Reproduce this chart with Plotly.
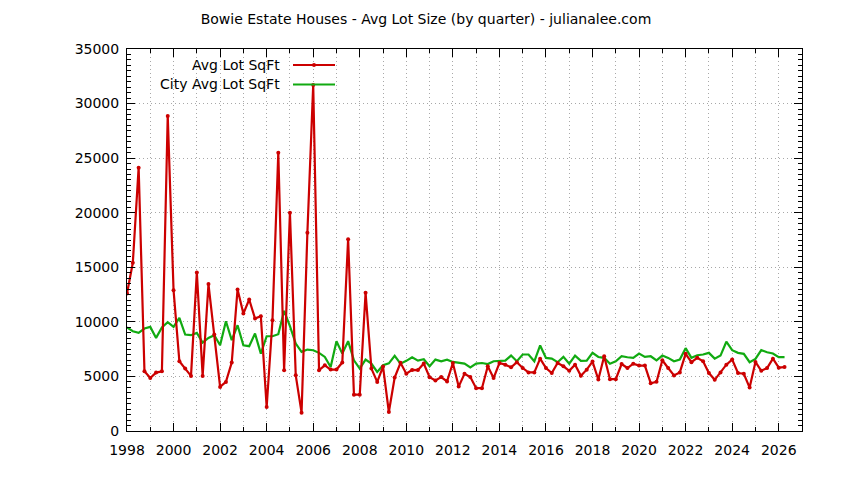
import numpy as np
import plotly.graph_objects as go

start_year = 1998
avg_lot = [
    12600, 15410, 24130, 5470,
    4860, 5350, 5470, 28870,
    12900, 6390, 5720, 5050,
    14530, 5050, 13460, 8840,
    4040, 4500, 6270, 12970,
    10760, 12050, 10300, 10520,
    2200, 10150, 25500, 5570,
    20000, 5100, 1680, 18160,
    31700, 5570, 6020, 5630,
    5630, 6270, 17580, 3330,
    3330, 12660, 5720, 4500,
    5900, 1740, 4900, 6250,
    5250, 5600, 5580, 6180,
    4920, 4630, 4940, 4540,
    6230, 4070, 5250, 4940,
    3920, 3920, 5930, 4850,
    6230, 6080, 5830, 6300,
    5770, 5370, 5370, 6630,
    5770, 5310, 6230, 5930,
    5520, 6080, 5060, 5620,
    6360, 4720, 6850, 4750,
    4750, 6140, 5770, 6170,
    5990, 5990, 4380, 4510,
    6480, 5770, 5090, 5370,
    7070, 6300, 6700, 6390,
    5310, 4690, 5370, 6080,
    6540, 5310, 5250, 3980,
    6330, 5520, 5770, 6630,
    5800, 5860,
]
city_avg_lot = [
    9480, 9140, 8990, 9390,
    9540, 8530, 9480, 9970,
    9540, 10370, 8840, 8780,
    8990, 8100, 8530, 8780,
    7860, 10060, 8320, 9690,
    7860, 7770, 8930, 7090,
    8680, 8680, 8870, 11010,
    9600, 8010, 7250, 7460,
    7400, 7160, 6790, 5870,
    8230, 7090, 8230, 6480,
    5720, 6540, 6180, 5410,
    6020, 6200, 6880, 6170,
    6430, 6760, 6450, 6570,
    5930, 6540, 6390, 6540,
    6330, 6230, 6170, 5830,
    6170, 6230, 6140, 6390,
    6390, 6450, 6910, 6390,
    7010, 7010, 6390, 7840,
    6700, 6630, 6300, 6790,
    6170, 6910, 6420, 6450,
    7160, 6780, 6700, 6170,
    6390, 6850, 6760, 6700,
    7100, 6790, 6850, 6480,
    6910, 6700, 6390, 6540,
    7590, 6700, 6940, 7010,
    7160, 6630, 6910, 8180,
    7410, 7160, 7070, 6300,
    6600, 7410, 7220, 7100,
    6760, 6760,
]
x_tick_vals = list(range(1998, 2027, 2))
y_tick_vals = list(range(0, 35001, 5000))
series_names = ["Avg Lot SqFt", "City Avg Lot SqFt"]
title_text = "Bowie Estate Houses - Avg Lot Size (by quarter) - julianalee.com"

x_vals = start_year + np.arange(len(avg_lot)) / 4.0

RED = "#cc0000"
GREEN = "#11aa11"
FONT = "DejaVu Sans"
FS = 14

# page body has an 8px margin: work in figure coordinates
W, H = 836, 472
OFF = 8
plot_l, plot_r, plot_t, plot_b = 127 - OFF, 802 - OFF, 49 - OFF, 431 - OFF
pw, ph = plot_r - plot_l, plot_b - plot_t

fig = go.Figure()
fig.add_trace(go.Scatter(x=x_vals, y=city_avg_lot, mode="lines", name=series_names[1],
                         line=dict(color=GREEN, width=2.2)))
fig.add_trace(go.Scatter(x=x_vals, y=avg_lot, mode="lines+markers", name=series_names[0],
                         line=dict(color=RED, width=2.2),
                         marker=dict(color=RED, size=4)))

grid_color = "#a8a8a8"
grid_dash = "1px,3px"
fig.update_xaxes(range=[1998, 2027], tickvals=x_tick_vals, ticktext=[str(v) for v in x_tick_vals],
                 ticks="inside", ticklen=8, tickcolor="black", showline=True, linecolor="black",
                 linewidth=1, mirror="allticks", showgrid=True, gridcolor=grid_color, griddash=grid_dash,
                 gridwidth=1, zeroline=False, ticklabelstandoff=6,
                 minor=dict(dtick=1, tick0=1998, ticks="inside", ticklen=4, tickcolor="black",
                            showgrid=True, gridcolor=grid_color, griddash=grid_dash, gridwidth=1),
                 tickfont=dict(family=FONT, size=FS, color="black"))
fig.update_yaxes(range=[0, 35000], tickvals=y_tick_vals, ticktext=[str(v) for v in y_tick_vals],
                 ticks="inside", ticklen=8, tickcolor="black", showline=True, linecolor="black",
                 linewidth=1, mirror="allticks", showgrid=True, gridcolor=grid_color, griddash=grid_dash,
                 gridwidth=1, zeroline=False, ticklabelstandoff=4,
                 minor=dict(dtick=500, tick0=0, ticks="inside", ticklen=4, tickcolor="black",
                            showgrid=False),
                 tickfont=dict(family=FONT, size=FS, color="black"))

def px2x(p):
    return (p - OFF - plot_l) / pw
def py2y(p):
    return (plot_b - (p - OFF)) / ph

# gnuplot-style key: text on the left, sample line on the right
key_rows = [(series_names[0], RED, 65, True), (series_names[1], GREEN, 84.5, False)]
for name, col, ypix, mark in key_rows:
    fig.add_annotation(x=px2x(282), y=py2y(ypix), xref="paper", yref="paper", text=name,
                       showarrow=False, xanchor="right", yanchor="middle",
                       font=dict(family=FONT, size=FS, color="black"))
    fig.add_shape(type="line", xref="paper", yref="paper", x0=px2x(293), x1=px2x(335),
                  y0=py2y(ypix), y1=py2y(ypix), line=dict(color=col, width=2.2))
    if mark:
        fig.add_shape(type="circle", xref="paper", yref="paper",
                      x0=px2x(312), x1=px2x(316), y0=py2y(ypix + 2), y1=py2y(ypix - 2),
                      fillcolor=col, line=dict(color=col, width=0))

fig.update_layout(
    width=W, height=H,
    margin=dict(l=plot_l, r=W - plot_r, t=plot_t, b=H - plot_b),
    paper_bgcolor="white", plot_bgcolor="white",
    showlegend=False,
    title=dict(text=title_text, x=0.5, xanchor="center", y=1 - (19 - OFF) / H, yanchor="middle",
               font=dict(family=FONT, size=FS, color="black")),
    font=dict(family=FONT, size=FS, color="black"),
)

fig.write_html("out.html")
